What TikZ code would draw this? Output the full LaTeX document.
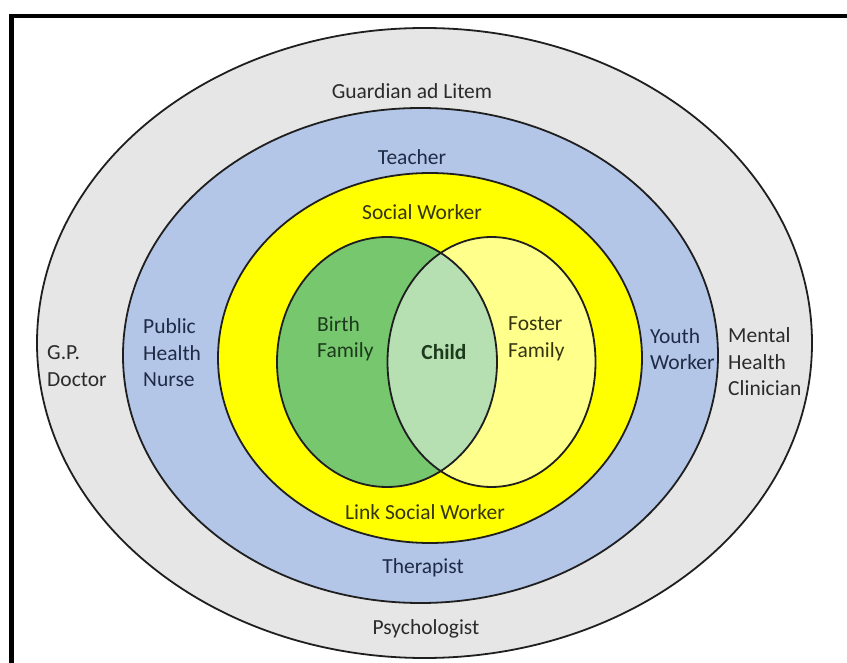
\documentclass[tikz,border=0pt]{standalone}
\usepackage{fontspec}
\setmainfont{Carlito}
\definecolor{ringgray}{HTML}{E6E6E6}
\definecolor{ringblue}{HTML}{B4C6E7}
\definecolor{ringyellow}{HTML}{FFFF00}
\definecolor{birthgreen}{HTML}{76C76E}
\definecolor{childgreen}{HTML}{B6DFB2}
\definecolor{fosteryellow}{HTML}{FFFF8C}
\definecolor{txtgray}{HTML}{2B2B2B}
\definecolor{txtnavy}{HTML}{1E2B47}
\definecolor{txtolive}{HTML}{353510}
\definecolor{txtgreen}{HTML}{1C3A1C}
\begin{document}
\begin{tikzpicture}[x=1pt,y=-1pt,
  ring/.style={draw=black!88,line width=1.8pt},
  lbl/.style={inner sep=0pt,font=\fontsize{21.5}{26.5}\selectfont,align=left},
  lblc/.style={lbl,align=center}]
\useasboundingbox (0,0) rectangle (847,663);
% outer rings
\fill[ringgray] (424.5,343) ellipse [x radius=387.5pt, y radius=315pt];
\draw[ring] (424.5,343) ellipse [x radius=387.5pt, y radius=315pt];
\fill[ringblue] (420.5,355.5) ellipse [x radius=297.5pt, y radius=247.5pt];
\draw[ring] (420.5,355.5) ellipse [x radius=297.5pt, y radius=247.5pt];
\fill[ringyellow] (430,358) ellipse [x radius=212pt, y radius=185pt];
\draw[ring] (430,358) ellipse [x radius=212pt, y radius=185pt];
% Venn
\fill[birthgreen] (387,362) ellipse [x radius=110pt, y radius=125pt];
\fill[fosteryellow] (491.5,362) ellipse [x radius=104pt, y radius=125pt];
\begin{scope}
  \clip (387,362) ellipse [x radius=110pt, y radius=125pt];
  \fill[childgreen] (491.5,362) ellipse [x radius=104pt, y radius=125pt];
\end{scope}
\draw[ring] (387,362) ellipse [x radius=110pt, y radius=125pt];
\draw[ring] (491.5,362) ellipse [x radius=104pt, y radius=125pt];
% frame
\draw[line width=4.5pt,black] (11.5,663) -- (11.5,16) -- (847,16);
% labels
\node[lblc,text=txtgray] (guardian) at (412,91) {Guardian ad Litem};
\node[lblc,text=txtnavy] (teacher) at (412,157) {Teacher};
\node[lblc,text=txtolive] (social) at (422,212) {Social Worker};
\node[lbl,text=txtgreen,anchor=west] (birth) at (317,339) {Birth\\Family};
\node[lblc,text=txtgreen,font=\fontsize{21.5}{26.5}\selectfont\bfseries] (child) at (444,352) {Child};
\node[lbl,text=txtolive,anchor=west] (foster) at (508,339) {Foster\\Family};
\node[lblc,text=txtolive] (link) at (425,512) {Link Social Worker};
\node[lblc,text=txtnavy] (therapist) at (423,568) {Therapist};
\node[lblc,text=txtgray] (psych) at (426,629) {Psychologist};
\node[lbl,text=txtgray,anchor=west] (gp) at (47,366) {G.P.\\Doctor};
\node[lbl,text=txtnavy,anchor=west] (nurse) at (143,353) {Public\\Health\\Nurse};
\node[lbl,text=txtnavy,anchor=west] (youth) at (650,349) {Youth\\Worker};
\node[lbl,text=txtgray,anchor=west] (mental) at (728,362) {Mental\\Health\\Clinician};
\end{tikzpicture}
\end{document}
